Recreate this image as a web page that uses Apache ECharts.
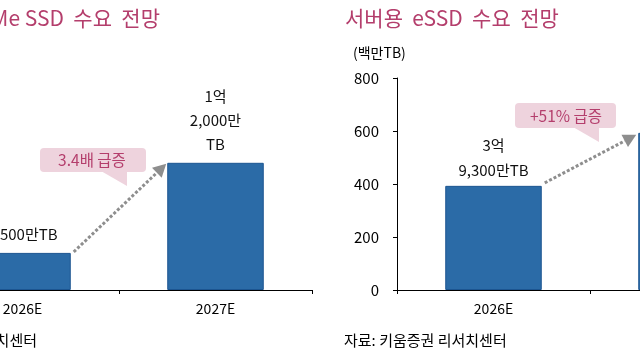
<!DOCTYPE html>
<html>
<head>
<meta charset="utf-8">
<script src="https://cdn.jsdelivr.net/npm/echarts@6/dist/echarts.min.js"></script>
<style>
html,body{margin:0;padding:0;background:#fff;}
#c{width:640px;height:360px;}
</style>
</head>
<body>
<div id="c"></div>
<script>
// ---- data ----
var categories = ['2026E', '2027E'];
var nvmeValues = [35, 120];            // 백만TB
var nvmeLabels = ['3,500만TB', '1억\n2,000만\nTB'];
var essdValues = [393, 593];           // 백만TB
var essdLabels = ['3억\n9,300만TB', '5억\n9,300만TB'];
var essdTicks = [0, 200, 400, 600, 800];
var leftTitle = 'NVMe SSD  수요  전망';
var rightTitle = '서버용  eSSD  수요  전망';
var unitText = '(백만TB)';
var sourceText = '자료: 키움증권 리서치센터';
var leftCallout = '3.4배 급증';
var rightCallout = '+51% 급증';

var FONT = '"Noto Sans CJK KR", "Noto Sans", sans-serif';
var PINK = '#B43E6C';
var CALL_BG = '#EED3DD';
var BAR = '#2B6BA7';
var BAR_BORDER = '#1C5591';
var ARROW = '#8E8E8E';

var chart = echarts.init(document.getElementById('c'), null, {renderer: 'canvas'});

function xAxisCfg(gi) {
  return {
    type: 'category', gridIndex: gi, data: categories,
    axisLine: {show: true, lineStyle: {color: '#000', width: 1}},
    axisTick: {show: true, length: 4, lineStyle: {color: '#000'}},
    axisLabel: {color: '#000', fontSize: 14, fontFamily: FONT, margin: 12},
    splitLine: {show: false}
  };
}

chart.setOption({
  animation: false,
  grid: [
    {left: -74, top: 78, width: 386, height: 212, containLabel: false, outerBoundsMode: 'none'},
    {left: 397, top: 78, width: 386, height: 212, containLabel: false, outerBoundsMode: 'none'}
  ],
  xAxis: [xAxisCfg(0), xAxisCfg(1)],
  yAxis: [
    {type: 'value', gridIndex: 0, min: 0, max: 200, show: false},
    {type: 'value', gridIndex: 1, min: essdTicks[0], max: essdTicks[essdTicks.length - 1], interval: 200,
     axisLine: {show: true, lineStyle: {color: '#000'}},
     axisTick: {show: true, length: 4, lineStyle: {color: '#000'}},
     axisLabel: {color: '#000', fontSize: 15, fontFamily: FONT, margin: 18},
     splitLine: {show: false}}
  ],
  series: [
    {
      type: 'bar', xAxisIndex: 0, yAxisIndex: 0, barWidth: '50%',
      itemStyle: {color: BAR, borderColor: BAR_BORDER, borderWidth: 1},
      label: {show: true, position: 'top', distance: 7, color: '#111', fontSize: 15, lineHeight: 24, fontFamily: FONT,
              formatter: function (p) { return nvmeLabels[p.dataIndex]; }},
      data: nvmeValues
    },
    {
      type: 'bar', xAxisIndex: 1, yAxisIndex: 1, barWidth: '50%',
      itemStyle: {color: BAR, borderColor: BAR_BORDER, borderWidth: 1},
      label: {show: true, position: 'top', distance: 3, color: '#111', fontSize: 15, lineHeight: 25, fontFamily: FONT,
              formatter: function (p) { return essdLabels[p.dataIndex]; }},
      data: essdValues
    }
  ]
});

// ---- arrows computed from bar geometry ----
function barCorners(gi, values) {
  var ptA = chart.convertToPixel({gridIndex: gi}, [0, values[0]]);
  var ptB = chart.convertToPixel({gridIndex: gi}, [1, values[1]]);
  var band = chart.convertToPixel({gridIndex: gi}, [1, 0])[0] - chart.convertToPixel({gridIndex: gi}, [0, 0])[0];
  var half = band * 0.25;
  return {x1: ptA[0] + half, y1: ptA[1], x2: ptB[0] - half, y2: ptB[1]};
}

function arrow(sx, sy, ex, ey) {
  var dx = ex - sx, dy = ey - sy;
  var len = Math.sqrt(dx * dx + dy * dy);
  var ux = dx / len, uy = dy / len;
  var headL = 13, headW = 7;
  var bx = ex - ux * headL, by = ey - uy * headL;
  var px = -uy, py = ux;
  return [
    {type: 'line', shape: {x1: sx, y1: sy, x2: bx, y2: by},
     style: {stroke: ARROW, lineWidth: 3, lineDash: [3, 2]}},
    {type: 'polygon', shape: {points: [[ex, ey], [bx + px * headW, by + py * headW], [bx - px * headW, by - py * headW]]},
     style: {fill: ARROW}}
  ];
}

var L = barCorners(0, nvmeValues);
var R = barCorners(1, essdValues);

var g = [];
g = g.concat(arrow(L.x1 + 3, L.y1 - 1, L.x2 - 1, L.y2 + 1));
g = g.concat(arrow(R.x1 + 3, R.y1 - 3, R.x2 - 2, R.y2 + 2));

// callouts
g.push({type: 'rect', shape: {x: 40, y: 148, width: 106, height: 24, r: 4}, style: {fill: CALL_BG}});
g.push({type: 'polygon', shape: {points: [[101, 171], [127, 171], [127, 186]]}, style: {fill: CALL_BG}});
g.push({type: 'text', x: 92, y: 160, style: {text: leftCallout, fill: PINK, fontSize: 15.5, fontFamily: FONT, align: 'center', verticalAlign: 'middle'}});

g.push({type: 'rect', shape: {x: 515, y: 103, width: 101, height: 25, r: 4}, style: {fill: CALL_BG}});
g.push({type: 'polygon', shape: {points: [[573, 127], [599, 127], [599, 142]]}, style: {fill: CALL_BG}});
g.push({type: 'text', x: 566, y: 116, style: {text: rightCallout, fill: PINK, fontSize: 15.5, fontFamily: FONT, align: 'center', verticalAlign: 'middle'}});

// titles and notes
g.push({type: 'text', x: 160, y: 18, style: {text: leftTitle, fill: PINK, fontSize: 21, fontFamily: FONT, align: 'right', verticalAlign: 'middle'}});
g.push({type: 'text', x: 345, y: 18, style: {text: rightTitle, fill: PINK, fontSize: 21, fontFamily: FONT, align: 'left', verticalAlign: 'middle'}});
g.push({type: 'text', x: 353, y: 53, style: {text: unitText, fill: '#000', fontSize: 14, fontFamily: FONT, align: 'left', verticalAlign: 'middle'}});
g.push({type: 'text', x: 37, y: 340, style: {text: sourceText, fill: '#000', fontSize: 15, fontFamily: FONT, align: 'right', verticalAlign: 'middle'}});
g.push({type: 'text', x: 344, y: 340, style: {text: sourceText, fill: '#000', fontSize: 15, fontFamily: FONT, align: 'left', verticalAlign: 'middle'}});

chart.setOption({graphic: g});
</script>
</body>
</html>
